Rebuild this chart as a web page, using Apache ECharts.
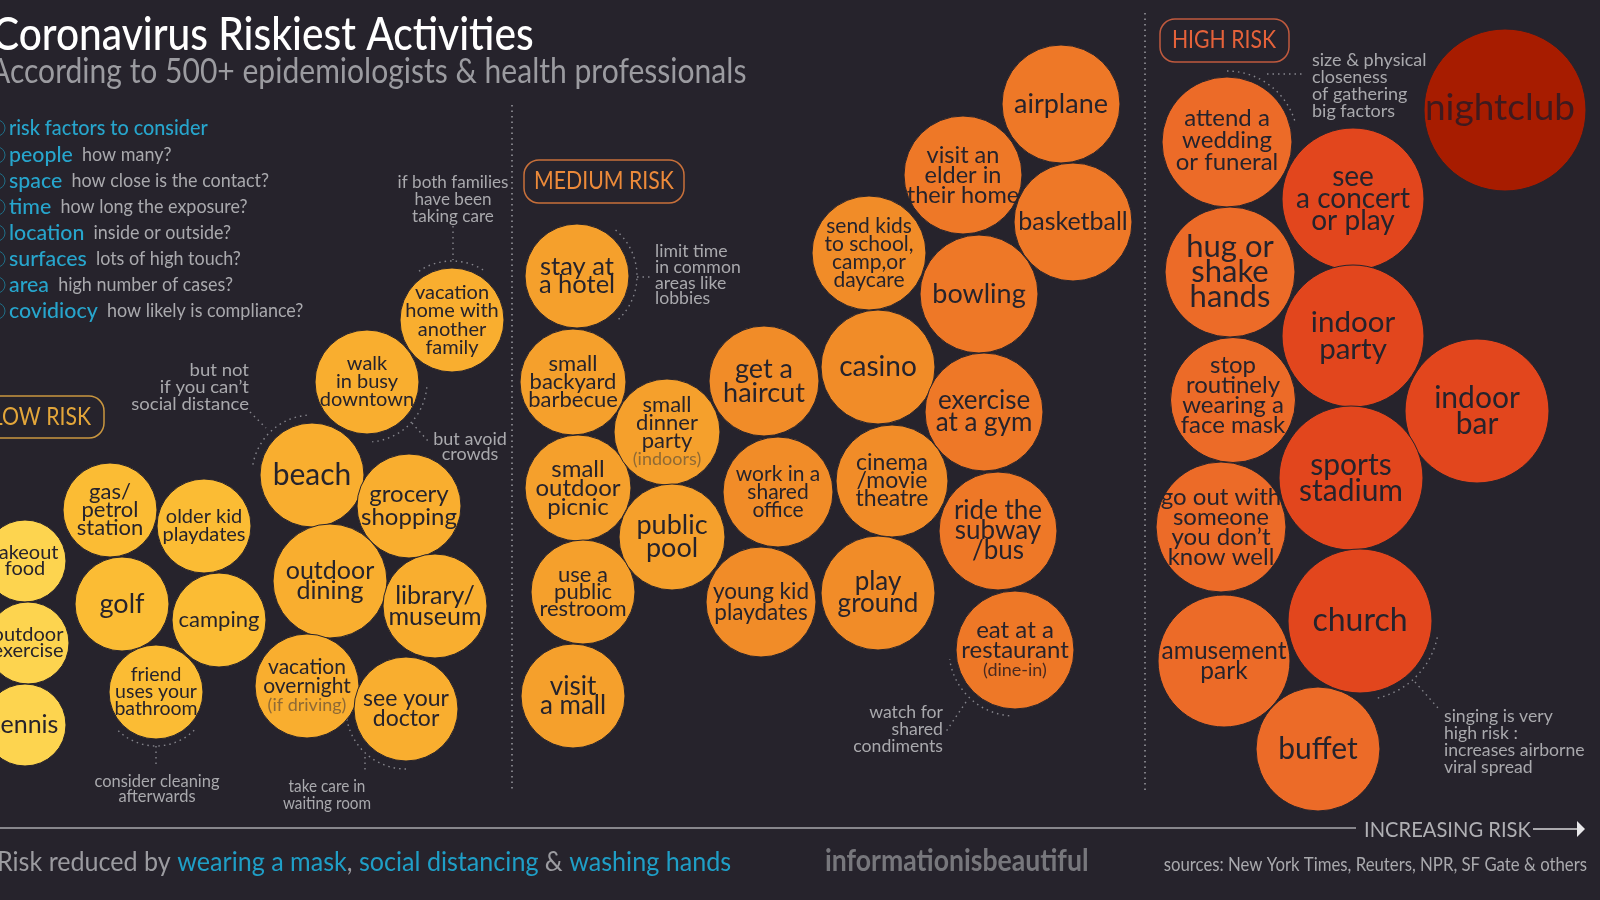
<!DOCTYPE html>
<html>
<head>
<meta charset="utf-8">
<title>Coronavirus Riskiest Activities</title>
<style>
  html, body { margin: 0; padding: 0; background: #26232c; }
  #chart { width: 1600px; height: 900px; }
</style>
<script src="https://cdn.jsdelivr.net/npm/echarts@6/dist/echarts.min.js"></script>
</head>
<body>
<div id="chart"></div>
<script>
// activities, one entry per bubble
var activities = [
  'takeout\nfood', 'outdoor\nexercise', 'tennis',
  'gas/\npetrol\nstation', 'older kid\nplaydates', 'golf', 'camping', 'friend\nuses your\nbathroom',
  'beach', 'grocery\nshopping', 'outdoor\ndining', 'library/\nmuseum', 'vacation\novernight', 'see your\ndoctor',
  'walk\nin busy\ndowntown', 'vacation\nhome with\nanother\nfamily',
  'stay at\na hotel', 'small\nbackyard\nbarbecue', 'small\noutdoor\npicnic', 'use a\npublic\nrestroom', 'visit\na mall',
  'small\ndinner\nparty', 'public\npool',
  'get a\nhaircut', 'work in a\nshared\noffice', 'young kid\nplaydates',
  'send kids\nto school,\ncamp,or\ndaycare', 'casino', 'cinema\n/movie\ntheatre', 'play\nground',
  'airplane', 'visit an\nelder in\ntheir home', 'basketball', 'bowling', 'exercise\nat a gym', 'ride the\nsubway\n/bus', 'eat at a\nrestaurant',
  'attend a\nwedding\nor funeral', 'hug or\nshake\nhands', 'stop\nroutinely\nwearing a\nface mask', 'go out with\nsomeone\nyou don\u2019t\nknow well', 'amusement\npark', 'buffet',
  'see\na concert\nor play', 'indoor\nparty', 'indoor\nbar', 'sports\nstadium', 'church', 'nightclub'
];
var xValues = [
  25, 28, 25,
  110, 204, 122, 219, 156,
  312, 409, 330, 435, 307, 406,
  367, 452,
  577, 573, 578, 583, 573,
  667, 672,
  764, 778, 761,
  869, 878, 892, 878,
  1061, 963, 1073, 979, 984, 998, 1015,
  1227, 1230, 1233, 1221, 1224, 1318,
  1353, 1353, 1477, 1351, 1360, 1505
];
var yValues = [
  561, 643, 725,
  510, 526, 604, 620, 692,
  475, 506, 581, 606, 686, 709,
  382, 320,
  276, 382, 488, 592, 696,
  432, 537,
  381, 492, 602,
  253, 367, 481, 593,
  104, 175, 222, 294, 412, 531, 650,
  142, 272, 400, 527, 661, 749,
  199, 336, 411, 478, 621, 110
];
var bubbleSizes = [
  82, 82, 82,
  94, 94, 94, 94, 94,
  104, 104, 114, 104, 104, 104,
  104, 104,
  104, 106, 106, 104, 104,
  106, 106,
  110, 110, 110,
  114, 114, 112, 114,
  118, 118, 118, 118, 118, 118, 118,
  130, 130, 125, 130, 132, 124,
  142, 142, 144, 144, 144, 162
];
var riskTiers = [
  0, 0, 0,
  1, 1, 1, 1, 1,
  2, 2, 2, 2, 2, 2,
  2, 2,
  3, 3, 3, 3, 3,
  3, 3,
  4, 4, 4,
  4, 4, 4, 4,
  5, 5, 5, 5, 5, 5, 5,
  6, 6, 6, 6, 6, 6,
  7, 7, 7, 7, 7, 8
];
var labelSizes = [
  20, 20, 25,
  22, 20, 27, 22, 19.5,
  30, 24, 25, 25, 21, 23,
  20, 20,
  25.5, 22, 24, 22, 26,
  22, 27,
  27, 21, 22.5,
  21, 28, 23, 26,
  27, 23.5, 25, 27, 26, 26, 24,
  24, 31, 24, 24, 24.5, 30,
  28, 29.5, 30, 30, 32, 37
];
var labelLineGaps = [
  16, 16, 25,
  18, 18, 30, 22, 17,
  30, 23, 20, 21, 19, 20,
  18, 18.5,
  18, 18, 19, 17, 19,
  18, 23,
  24, 18, 21,
  18, 28, 18, 22,
  27, 20, 27, 31, 22, 20, 20,
  22, 25, 20, 20, 20, 36,
  22, 27, 26, 26, 34, 41
];
var labelNotes = { 'vacation\novernight': '(if driving)', 'small\ndinner\nparty': '(indoors)', 'eat at a\nrestaurant': '(dine-in)' };
// a few labels do not sit in the exact middle of their bubble
var labelNudges = { 'stop\nroutinely\nwearing a\nface mask': [0, -5], 'attend a\nwedding\nor funeral': [0, -2], 'nightclub': [-5, -2] };

var tierColors = ['#fdd44f', '#fbbc34', '#f9ae2f', '#f5a02c', '#f18c28', '#ee7827', '#ec6b28', '#e2461d', '#a71c00'];

var riskFactors = [
  ['risk factors to consider', ''],
  ['people', 'how many?'],
  ['space', 'how close is the contact?'],
  ['time', 'how long the exposure?'],
  ['location', 'inside or outside?'],
  ['surfaces', 'lots of high touch?'],
  ['area', 'high number of cases?'],
  ['covidiocy', 'how likely is compliance?']
];
var factorRows = [128, 155, 181, 207, 233, 259, 285, 311];

var fontName = 'Lato';
var bg = '#26232c';
var noteGrey = '#a9a9ad';
var cyan = '#27a5cc';

function bubbleLabel(i) {
  var size = labelSizes[i], gap = labelLineGaps[i];
  var text = activities[i].split('\n').map(function (s) { return '{t|' + s + '}'; }).join('\n');
  var rich = { t: { fontSize: size, lineHeight: gap, fontFamily: fontName, color: i == activities.length - 1 ? '#3f1a1e' : '#26232c' } };
  var note = labelNotes[activities[i]];
  if (note) {
    text += '\n{n|' + note + '}';
    rich.n = { fontSize: 18, lineHeight: gap, fontFamily: fontName, color: note == '(dine-in)' ? '#4a2a20' : '#8f6a35' };
  }
  return { show: true, position: 'inside', align: 'center', verticalAlign: 'middle', formatter: text, rich: rich,
    offset: labelNudges[activities[i]] || [0, 0] };
}

var bubbles = activities.map(function (name, i) {
  return {
    name: name.replace(/\n/g, ' '),
    value: [xValues[i], yValues[i], bubbleSizes[i]],
    itemStyle: { color: tierColors[riskTiers[i]] },
    label: bubbleLabel(i)
  };
});

// ---- annotation helpers
function note(x, y, text, align, squeeze, size, gap) {
  return { type: 'text', silent: true, x: x, y: y, scaleX: squeeze || 0.98, style: {
    text: text, fill: noteGrey, fontFamily: fontName, fontSize: size || 18, lineHeight: gap || 17,
    align: align || 'left', verticalAlign: 'middle' } };
}
function dotArc(cx, cy, r, from, to) {
  return { type: 'arc', silent: true, shape: { cx: cx, cy: cy, r: r, startAngle: from * Math.PI / 180, endAngle: to * Math.PI / 180, clockwise: true },
    style: { fill: null, stroke: '#85858c', lineWidth: 1.4, lineDash: [1.5, 4] } };
}
function dotLine(x1, y1, x2, y2) {
  return { type: 'line', silent: true, shape: { x1: x1, y1: y1, x2: x2, y2: y2 },
    style: { stroke: '#85858c', lineWidth: 1.4, lineDash: [1.5, 4] } };
}
function pill(x, y, w, h, color) {
  return { type: 'rect', silent: true, shape: { x: x, y: y, width: w, height: h, r: 15 }, style: { fill: null, stroke: color, lineWidth: 1.5 } };
}
function pillText(x, y, text, color, align) {
  return { type: 'text', silent: true, x: x, y: y, scaleX: 0.85, style: { text: text, fill: color, fontFamily: fontName, fontSize: 25, align: align, verticalAlign: 'middle' } };
}

var extras = [
  { type: 'text', silent: true, x: -8, y: 35, scaleX: 0.865, style: { text: 'Coronavirus Riskiest Activities', fill: '#ffffff', fontFamily: fontName, fontWeight: 500, fontSize: 47, verticalAlign: 'middle' } },
  { type: 'text', silent: true, x: -10, y: 72, scaleX: 0.884, style: { text: 'According to 500+ epidemiologists & health professionals', fill: '#9b9ba0', fontFamily: fontName, fontSize: 34, verticalAlign: 'middle' } },

  note(453, 199, 'if both families\nhave been\ntaking care', 'center', 0.95),
  note(655, 275, 'limit time\nin common\nareas like\nlobbies', 'left', 0.98, 18, 15.7),
  note(249, 387, 'but not\nif you can\u2019t\nsocial distance', 'right', 1.03),
  note(470, 447, 'but avoid\ncrowds', 'center', 1, 18, 15),
  note(157, 789, 'consider cleaning\nafterwards', 'center', 0.97, 17, 15.5),
  note(327, 795, 'take care in\nwaiting room', 'center', 0.9, 17, 17),
  note(943, 729, 'watch for\nshared\ncondiments', 'right', 0.98),
  note(1312, 86, 'size & physical\ncloseness\nof gathering\nbig factors', 'left', 1, 18, 17),
  note(1444, 742, 'singing is very\nhigh risk :\nincreases airborne\nviral spread', 'left', 0.98, 18, 17),

  dotArc(452, 320, 59, 236, 304), dotLine(453, 226, 453, 260),
  dotArc(577, 276, 60, -50, 50), dotLine(637, 277, 652, 277),
  dotArc(367, 382, 60, 5, 85), dotLine(412, 423, 428, 441),
  dotArc(312, 475, 60, 190, 265), dotLine(250, 412, 266, 428),
  dotArc(156, 692, 54, 45, 135), dotLine(156, 746, 156, 766),
  dotArc(406, 709, 60, 90, 170), dotLine(365, 757, 365, 773),
  dotArc(1015, 650, 66, 95, 172), dotLine(966, 702, 945, 733),
  dotArc(1227, 142, 71, -90, -15), dotLine(1267, 74, 1303, 74),
  dotArc(1360, 621, 79, 12, 78), dotLine(1415, 682, 1438, 708),

  pill(-40, 396, 144, 42, '#c9963f'),
  pillText(91, 417, 'LOW RISK', '#e3a63a', 'right'),
  pill(524, 160, 160, 43, '#c8703a'),
  pillText(604, 181, 'MEDIUM RISK', '#ec8a3a', 'center'),
  pill(1160, 19, 129, 43, '#c05a3e'),
  pillText(1224, 40, 'HIGH RISK', '#e5623a', 'center'),

  { type: 'line', silent: true, shape: { x1: 0, y1: 828, x2: 1356, y2: 828 }, style: { stroke: '#a8a8ac', lineWidth: 1.5 } },
  { type: 'text', silent: true, x: 1364, y: 830, scaleX: 0.96, style: { text: 'INCREASING RISK', fill: '#b0b0b4', fontFamily: fontName, fontSize: 21, verticalAlign: 'middle' } },
  { type: 'line', silent: true, shape: { x1: 1533, y1: 829, x2: 1578, y2: 829 }, style: { stroke: '#d8d8da', lineWidth: 1.5 } },
  { type: 'polygon', silent: true, shape: { points: [[1577, 821], [1585, 829], [1577, 837]] }, style: { fill: '#e8e8ea' } },

  { type: 'text', silent: true, x: -3, y: 862, scaleX: 0.93, style: {
    text: '{g|Risk reduced by }{c|wearing a mask}{g|, }{c|social distancing}{g| & }{c|washing hands}',
    verticalAlign: 'middle', rich: {
      g: { fill: '#9b9ba0', fontFamily: fontName, fontSize: 27 },
      c: { fill: '#1f9fc7', fontFamily: fontName, fontSize: 27 }
    } } },
  { type: 'text', silent: true, x: 825, y: 861, scaleX: 0.887, style: { text: 'informationisbeautiful', fill: '#77777c', fontFamily: fontName, fontWeight: 700, fontSize: 30, verticalAlign: 'middle' } },
  { type: 'text', silent: true, x: 1587, y: 865, scaleX: 0.906, style: { text: 'sources: New York Times, Reuters, NPR, SF Gate & others', fill: noteGrey, fontFamily: fontName, fontSize: 18.5, align: 'right', verticalAlign: 'middle' } }
];

// list of risk factors, the rings are cut by the left edge
riskFactors.forEach(function (row, i) {
  extras.push({ type: 'circle', silent: true, shape: { cx: -3, cy: factorRows[i], r: 8 }, style: { fill: null, stroke: '#1f6f88', lineWidth: 1 } });
  extras.push({ type: 'text', silent: true, x: 9, y: factorRows[i], scaleX: i == 0 ? 0.9 : 0.97, style: {
    text: '{a|' + row[0] + '}' + (row[1] ? '{b|  ' + row[1] + '}' : ''),
    verticalAlign: 'middle', rich: {
      a: { fill: cyan, fontFamily: fontName, fontWeight: 500, fontSize: 22 },
      b: { fill: noteGrey, fontFamily: fontName, fontSize: 18.5 }
    } } });
});

var myChart = echarts.init(document.getElementById('chart'));
myChart.setOption({
  animation: false,
  backgroundColor: bg,
  grid: { left: 0, right: 0, top: 0, bottom: 0 },
  xAxis: { type: 'value', min: 0, max: 1600, show: false },
  yAxis: { type: 'value', min: 0, max: 900, inverse: true, show: false },
  graphic: extras,
  series: [{
    type: 'scatter',
    data: bubbles,
    symbolSize: function (v) { return v[2]; },
    itemStyle: { opacity: 1, borderColor: bg, borderWidth: 1 },
    markLine: {
      silent: true,
      symbol: 'none',
      label: { show: false },
      lineStyle: { color: '#9a9aa0', type: [1.5, 4], width: 1.5 },
      data: [
        [{ coord: [512, 105] }, { coord: [512, 792] }],
        [{ coord: [1145, 13] }, { coord: [1145, 792] }]
      ]
    }
  }]
});
</script>
</body>
</html>
